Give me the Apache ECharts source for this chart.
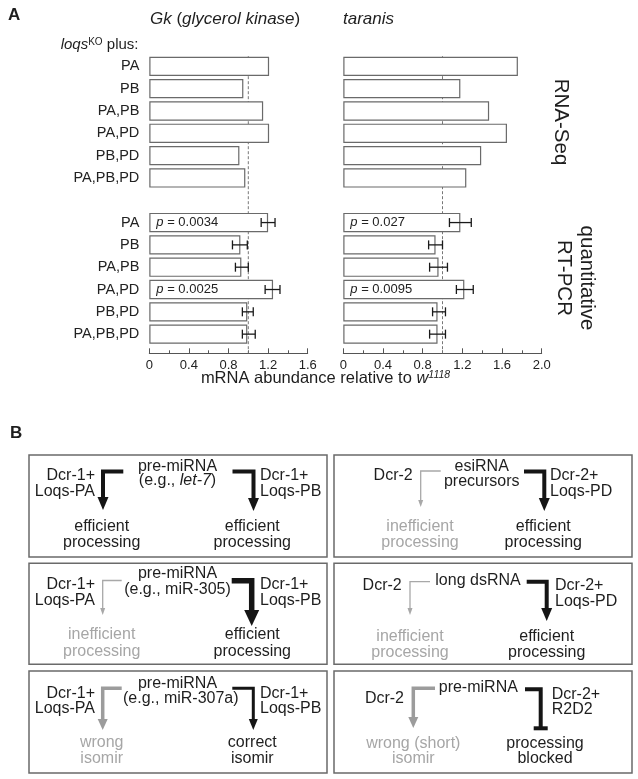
<!DOCTYPE html>
<html>
<head>
<meta charset="utf-8">
<script src="https://cdn.jsdelivr.net/npm/echarts@6/dist/echarts.min.js"></script>
<style>
  html, body { margin: 0; padding: 0; background: #fff; }
  #chart { width: 638px; height: 779px; }
</style>
</head>
<body>
<div id="chart"></div>
<script>
const FONT = '"Liberation Sans", Arial, Helvetica, sans-serif';

// rows: RNA-Seq block, spacer, quantitative RT-PCR block
const rows = ['PA', 'PB', 'PA,PB', 'PA,PD', 'PB,PD', 'PA,PB,PD', '', 'PA', 'PB', 'PA,PB', 'PA,PD', 'PB,PD', 'PA,PB,PD'];

const gkValues = [1.21, 0.95, 1.15, 1.21, 0.91, 0.97, null, 1.20, 0.92, 0.93, 1.25, 0.99, 0.99];
const taranisValues = [1.76, 1.18, 1.47, 1.65, 1.39, 1.24, null, 1.18, 0.93, 0.96, 1.22, 0.95, 0.95];

// error bars for RT-PCR rows: [row, low, high]
const gkErrors = [[7, 1.13, 1.27], [8, 0.84, 0.99], [9, 0.87, 1.00], [10, 1.17, 1.32], [11, 0.94, 1.05], [12, 0.94, 1.07]];
const taranisErrors = [[7, 1.07, 1.29], [8, 0.86, 1.00], [9, 0.87, 1.05], [10, 1.14, 1.31], [11, 0.90, 1.03], [12, 0.87, 1.03]];

const gkP = { 7: '0.0034', 10: '0.0025' };
const taranisP = { 7: '0.027', 10: '0.0095' };

const gkMax = 1.6;
const taranisMax = 2.0;
const refValue = 1.0;

// panel B text lines: [text, x, y, align, tone]
const diagramLines = [
  ['pre-miRNA', 177.5, 466.5, 'center', 'k'],
  ['(e.g., {i|let-7})', 177.5, 481, 'center', 'k'],
  ['Dcr-1+', 95, 476, 'right', 'k'], ['Loqs-PA', 95, 492, 'right', 'k'],
  ['Dcr-1+', 260, 476, 'left', 'k'], ['Loqs-PB', 260, 492, 'left', 'k'],
  ['efficient', 101.7, 526.7, 'center', 'k'], ['processing', 101.7, 543, 'center', 'k'],
  ['efficient', 252.3, 526.7, 'center', 'k'], ['processing', 252.3, 543, 'center', 'k'],

  ['Dcr-2', 412.7, 476, 'right', 'k'],
  ['esiRNA', 481.7, 466.5, 'center', 'k'], ['precursors', 481.7, 481.5, 'center', 'k'],
  ['Dcr-2+', 550, 476, 'left', 'k'], ['Loqs-PD', 550, 492, 'left', 'k'],
  ['inefficient', 420, 526.7, 'center', 'g'], ['processing', 420, 543, 'center', 'g'],
  ['efficient', 543.3, 526.7, 'center', 'k'], ['processing', 543.3, 543, 'center', 'k'],

  ['pre-miRNA', 177.5, 574, 'center', 'k'], ['(e.g., miR-305)', 177.5, 590, 'center', 'k'],
  ['Dcr-1+', 95, 585, 'right', 'k'], ['Loqs-PA', 95, 601, 'right', 'k'],
  ['Dcr-1+', 260, 585, 'left', 'k'], ['Loqs-PB', 260, 601, 'left', 'k'],
  ['inefficient', 101.7, 635, 'center', 'g'], ['processing', 101.7, 651.5, 'center', 'g'],
  ['efficient', 252.3, 635, 'center', 'k'], ['processing', 252.3, 651.5, 'center', 'k'],

  ['Dcr-2', 401.7, 586, 'right', 'k'],
  ['long dsRNA', 478, 580.7, 'center', 'k'],
  ['Dcr-2+', 555, 586, 'left', 'k'], ['Loqs-PD', 555, 601.7, 'left', 'k'],
  ['inefficient', 410, 636.7, 'center', 'g'], ['processing', 410, 652.7, 'center', 'g'],
  ['efficient', 546.7, 636.7, 'center', 'k'], ['processing', 546.7, 652.7, 'center', 'k'],

  ['pre-miRNA', 177.5, 683.3, 'center', 'k'], ['(e.g., miR-307a)', 180.8, 698.3, 'center', 'k'],
  ['Dcr-1+', 95, 693.3, 'right', 'k'], ['Loqs-PA', 95, 708.3, 'right', 'k'],
  ['Dcr-1+', 260, 693.3, 'left', 'k'], ['Loqs-PB', 260, 708.3, 'left', 'k'],
  ['wrong', 101.7, 742.7, 'center', 'g'], ['isomir', 101.7, 758.3, 'center', 'g'],
  ['correct', 252.3, 742.7, 'center', 'k'], ['isomir', 252.3, 758.3, 'center', 'k'],

  ['Dcr-2', 404, 698.3, 'right', 'k'],
  ['pre-miRNA', 478.3, 687.3, 'center', 'k'],
  ['Dcr-2+', 551.7, 695, 'left', 'k'], ['R2D2', 551.7, 710, 'left', 'k'],
  ['wrong (short)', 413.3, 743.3, 'center', 'g'], ['isomir', 413.3, 758.3, 'center', 'g'],
  ['processing', 545, 743.3, 'center', 'k'], ['blocked', 545, 758.3, 'center', 'k']
];

// elbow arrows: [startX, y, cornerX, tipY, kind]
const diagramArrows = [
  [123.3, 471.5, 103, 510, 'strong'], [232.5, 471.5, 253.5, 511, 'strong'],
  [440.7, 471, 420.7, 507, 'weak'], [524, 471.5, 544.3, 511, 'strong'],
  [121.7, 580.5, 102.7, 615, 'weak'], [231.7, 580.7, 251.7, 626, 'xstrong'],
  [430, 581.7, 410, 615, 'weak'], [526.7, 581.7, 546.7, 621, 'strong'],
  [121.7, 688.3, 102.7, 730, 'grayMid'], [232.3, 688.3, 253.3, 730, 'blackMid'],
  [435, 688.3, 413.3, 728, 'grayMid'], [525, 689.3, 540.7, 728.3, 'block']
];

const boxes = [
  [29, 455, 298, 102], [334, 455, 298, 102],
  [29, 563.3, 298, 101], [334, 563.3, 298, 101],
  [29, 671, 298, 102], [334, 671, 298, 102]
];

const arrowStyles = {
  strong: { w: 4, color: '#151515', hw: 11, hh: 13 },
  xstrong: { w: 5.5, color: '#151515', hw: 15, hh: 16 },
  weak: { w: 1.3, color: '#a8a8a8', hw: 5, hh: 7 },
  grayMid: { w: 3.5, color: '#9c9c9c', hw: 10, hh: 11 },
  blackMid: { w: 3, color: '#151515', hw: 9, hh: 11 },
  block: { w: 4, color: '#151515', hw: 14, hh: 0 }
};

function txt(text, x, y, align, opts) {
  opts = opts || {};
  const size = opts.size || 16;
  return {
    type: 'text', x, y, rotation: opts.rotation || 0, silent: true,
    style: {
      text, fill: opts.color || '#1e1e1e', fontSize: size, fontFamily: FONT,
      fontWeight: opts.weight || 'normal', fontStyle: opts.style || 'normal',
      align, textAlign: align, verticalAlign: 'middle', textVerticalAlign: 'middle',
      lineHeight: opts.lineHeight,
      rich: opts.rich || {
        i: { fontStyle: 'italic', fontSize: size, fontFamily: FONT }
      }
    }
  };
}

function elbow(x0, y0, x1, tip, kind) {
  const s = arrowStyles[kind];
  if (kind === 'block') {
    return [
      { type: 'polyline', silent: true, shape: { points: [[x0, y0], [x1, y0], [x1, tip]] }, style: { stroke: s.color, lineWidth: s.w, fill: null, lineJoin: 'miter' } },
      { type: 'line', silent: true, shape: { x1: x1 - s.hw / 2, y1: tip, x2: x1 + s.hw / 2, y2: tip }, style: { stroke: s.color, lineWidth: s.w } }
    ];
  }
  const base = tip - s.hh;
  return [
    { type: 'polyline', silent: true, shape: { points: [[x0, y0], [x1, y0], [x1, base + 1]] }, style: { stroke: s.color, lineWidth: s.w, fill: null, lineJoin: 'miter' } },
    { type: 'polygon', silent: true, shape: { points: [[x1 - s.hw / 2, base], [x1 + s.hw / 2, base], [x1, tip]] }, style: { fill: s.color } }
  ];
}

function renderError(params, api) {
  const row = api.value(0);
  const a = api.coord([api.value(1), row]);
  const b = api.coord([api.value(2), row]);
  const h = 4.5;
  const st = { stroke: '#1a1a1a', lineWidth: 1.3 };
  return {
    type: 'group',
    children: [
      { type: 'line', shape: { x1: a[0], y1: a[1], x2: b[0], y2: b[1] }, style: st },
      { type: 'line', shape: { x1: a[0], y1: a[1] - h, x2: a[0], y2: a[1] + h }, style: st },
      { type: 'line', shape: { x1: b[0], y1: b[1] - h, x2: b[0], y2: b[1] + h }, style: st }
    ]
  };
}

function renderRef(params, api) {
  const cs = params.coordSys;
  const x = api.coord([api.value(0), 0])[0];
  return {
    type: 'line',
    shape: { x1: x, y1: cs.y + 1, x2: x, y2: cs.y + cs.height + 8 },
    style: { stroke: '#777', lineWidth: 1, lineDash: [3, 2] }
  };
}

function xAxisFor(i, max) {
  return {
    type: 'value', gridIndex: i, min: 0, max: max, interval: 0.4, offset: 8,
    axisLine: { show: true, lineStyle: { color: '#555', width: 1 } },
    axisTick: { show: true, inside: true, length: 5, lineStyle: { color: '#555' } },
    minorTick: { show: true, splitNumber: 2, length: 3, lineStyle: { color: '#555' } },
    splitLine: { show: false },
    axisLabel: {
      color: '#222', fontSize: 13, margin: 6, fontFamily: FONT,
      formatter: v => (v === 0 ? '0' : v.toFixed(1))
    }
  };
}

function yAxisFor(i, showLabels) {
  return {
    type: 'category', gridIndex: i, data: rows, inverse: true,
    axisLine: { show: false }, axisTick: { show: false }, splitLine: { show: false },
    axisLabel: { show: showLabels, color: '#222', fontSize: 14.5, margin: 10, fontFamily: FONT }
  };
}

function seriesFor(i, values, errors, pMap) {
  return [
    {
      type: 'custom', xAxisIndex: i, yAxisIndex: i, z: 1,
      renderItem: renderRef, data: [[refValue, 0]], encode: { x: 0, y: 1 }
    },
    {
      type: 'bar', xAxisIndex: i, yAxisIndex: i, z: 3, data: values, barWidth: 19.3,
      itemStyle: { color: '#fff', borderColor: '#6a6a6a', borderWidth: 1.2 },
      label: {
        show: true, position: 'insideLeft', distance: 7, color: '#222', fontSize: 13, fontFamily: FONT,
        formatter: p => (pMap[p.dataIndex] ? '{i|p} = ' + pMap[p.dataIndex] : ''),
        rich: { i: { fontStyle: 'italic', fontSize: 13, fontFamily: FONT } }
      }
    },
    {
      type: 'custom', xAxisIndex: i, yAxisIndex: i, z: 4,
      renderItem: renderError, data: errors, encode: { x: [1, 2], y: 0 }
    }
  ];
}

const graphics = [];
graphics.push(txt('A', 8, 15, 'left', { size: 17, weight: 'bold' }));
graphics.push(txt('B', 10, 433, 'left', { size: 17, weight: 'bold' }));
graphics.push(txt('{i|Gk} ({i|glycerol kinase})', 150, 19, 'left', { size: 17 }));
graphics.push(txt('{i|taranis}', 343, 19, 'left', { size: 17 }));
graphics.push(txt('{i|loqs}{s|KO} plus:', 138.5, 45, 'right', {
  size: 15,
  rich: {
    i: { fontStyle: 'italic', fontSize: 15, fontFamily: FONT },
    s: { fontSize: 10, fontFamily: FONT, verticalAlign: 'top', lineHeight: 10 }
  }
}));
graphics.push(txt('mRNA abundance relative to {i|w}{s|1118}', 325.5, 378, 'center', {
  size: 16.5,
  rich: {
    i: { fontStyle: 'italic', fontSize: 16.5, fontFamily: FONT },
    s: { fontStyle: 'italic', fontSize: 10.5, fontFamily: FONT, verticalAlign: 'top', lineHeight: 10 }
  }
}));
graphics.push(txt('RNA-Seq', 561, 122, 'center', { size: 20.5, rotation: -Math.PI / 2 }));
graphics.push(txt('quantitative\nRT-PCR', 575, 278, 'center', { size: 20.5, rotation: -Math.PI / 2, lineHeight: 23 }));

boxes.forEach(b => {
  graphics.push({
    type: 'rect', silent: true, shape: { x: b[0], y: b[1], width: b[2], height: b[3] },
    style: { fill: null, stroke: '#6a6a6a', lineWidth: 1.5 }
  });
});
diagramArrows.forEach(a => {
  elbow(a[0], a[1], a[2], a[3], a[4]).forEach(e => graphics.push(e));
});
diagramLines.forEach(l => {
  graphics.push(txt(l[0], l[1], l[2], l[3], { color: l[4] === 'g' ? '#a6a6a6' : '#1e1e1e' }));
});

const option = {
  backgroundColor: '#fff',
  animation: false,
  textStyle: { fontFamily: FONT },
  grid: [
    { left: 149.3, top: 55.2, width: 158.4, height: 290.1 },
    { left: 343.3, top: 55.2, width: 198.4, height: 290.1 }
  ],
  xAxis: [xAxisFor(0, gkMax), xAxisFor(1, taranisMax)],
  yAxis: [yAxisFor(0, true), yAxisFor(1, false)],
  series: [].concat(
    seriesFor(0, gkValues, gkErrors, gkP),
    seriesFor(1, taranisValues, taranisErrors, taranisP)
  ),
  graphic: { elements: graphics }
};

const myChart = echarts.init(document.getElementById('chart'));
myChart.setOption(option);
</script>
</body>
</html>
